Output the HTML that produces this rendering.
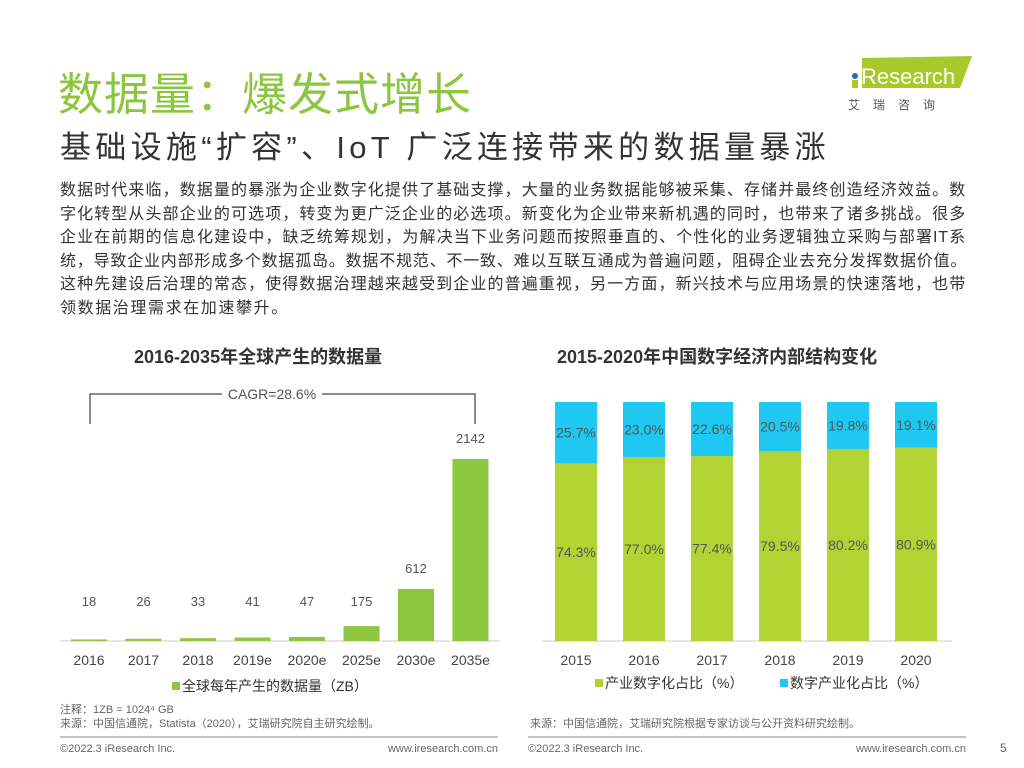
<!DOCTYPE html>
<html><head><meta charset="utf-8"><style>
body{margin:0;width:1024px;height:768px;background:#fff;position:relative;overflow:hidden;font-family:"Liberation Sans","Noto Sans CJK SC",sans-serif}
.a{position:absolute;white-space:nowrap}
.pl{white-space:nowrap;width:906px;text-align:justify;text-align-last:justify;text-justify:inter-character;height:23.6px}
</style></head><body>
<div class="a" style="left:58px;top:58px;font-size:45px;color:#8cc63f;letter-spacing:1px">数据量：爆发式增长</div>
<div class="a" style="left:60px;top:122px;font-size:31px;color:#333;letter-spacing:4.3px">基础设施“扩容”、IoT 广泛连接带来的数据量暴涨</div>
<div class="a" style="left:848px;top:52px;width:125px;height:60px">
<svg width="125" height="60"><polygon points="14,6 124,4 112,36 14,36" fill="#a9c92b"/><circle cx="7" cy="24" r="3" fill="#2a6ab5"/><rect x="4" y="28" width="6" height="8" fill="#a9c92b"/>
<text x="13" y="32" font-size="22" fill="#fff" font-family="Liberation Sans">Research</text>
<text x="0" y="57" font-size="12" fill="#555" letter-spacing="13" font-family="Noto Sans CJK SC">艾瑞咨询</text></svg></div>
<div class="a" style="left:60px;top:179px;font-size:16px;letter-spacing:0.8px;line-height:23.6px;color:#333">
<div class="pl">数据时代来临，数据量的暴涨为企业数字化提供了基础支撑，大量的业务数据能够被采集、存储并最终创造经济效益。数</div>
<div class="pl">字化转型从头部企业的可选项，转变为更广泛企业的必选项。新变化为企业带来新机遇的同时，也带来了诸多挑战。很多</div>
<div class="pl">企业在前期的信息化建设中，缺乏统筹规划，为解决当下业务问题而按照垂直的、个性化的业务逻辑独立采购与部署IT系</div>
<div class="pl">统，导致企业内部形成多个数据孤岛。数据不规范、不一致、难以互联互通成为普遍问题，阻碍企业去充分发挥数据价值。</div>
<div class="pl">这种先建设后治理的常态，使得数据治理越来越受到企业的普遍重视，另一方面，新兴技术与应用场景的快速落地，也带</div>
<div style="height:23.6px;letter-spacing:1.6px">领数据治理需求在加速攀升。</div>
</div>
<div class="a" style="left:134px;top:343px;font-size:18px;font-weight:bold;color:#333">2016-2035年全球产生的数据量</div>
<div class="a" style="left:557px;top:343px;font-size:18px;font-weight:bold;color:#333">2015-2020年中国数字经济内部结构变化</div>
<svg class="a" style="left:0;top:0" width="1024" height="768" id="charts" font-family="Liberation Sans, Noto Sans CJK SC, sans-serif">
<line x1="60" y1="641" x2="500" y2="641" stroke="#ccc"/>
<path d="M90,424 V394 H222 M322,394 H475 V424" fill="none" stroke="#666" stroke-width="1.5"/>
<text x="272" y="399" text-anchor="middle" font-size="14" fill="#555">CAGR=28.6%</text>
<line x1="542" y1="641" x2="952" y2="641" stroke="#ccc"/>
<g id="lc"></g><g id="rc"></g>
<rect x="172" y="682" width="8" height="8" fill="#8dc63f"/>
<text x="182" y="691" font-size="14" fill="#333">全球每年产生的数据量（ZB）</text>
<rect x="595" y="679" width="8" height="8" fill="#b3d234"/>
<text x="605" y="688" font-size="14" fill="#333">产业数字化占比（%）</text>
<rect x="780" y="679" width="8" height="8" fill="#1fc8f0"/>
<text x="790" y="688" font-size="14" fill="#333">数字产业化占比（%）</text>
<text x="60" y="713" font-size="11" fill="#666">注释：1ZB = 1024⁴ GB</text>
<text x="60" y="727" font-size="11" fill="#666">来源：中国信通院，Statista（2020），艾瑞研究院自主研究绘制。</text>
<text x="530" y="727" font-size="11" fill="#666">来源：中国信通院，艾瑞研究院根据专家访谈与公开资料研究绘制。</text>
<line x1="60" y1="737" x2="498" y2="737" stroke="#888"/>
<line x1="528" y1="737" x2="966" y2="737" stroke="#888"/>
<text x="60" y="752" font-size="11" fill="#666">©2022.3 iResearch Inc.</text>
<text x="498" y="752" font-size="11" fill="#666" text-anchor="end">www.iresearch.com.cn</text>
<text x="528" y="752" font-size="11" fill="#666">©2022.3 iResearch Inc.</text>
<text x="966" y="752" font-size="11" fill="#666" text-anchor="end">www.iresearch.com.cn</text>
<text x="1000" y="752" font-size="12" fill="#666">5</text>
</svg>
<script>
const leftCats=["2016","2017","2018","2019e","2020e","2025e","2030e","2035e"];
const leftVals=[18,26,33,41,47,175,612,2142];
const rightCats=["2015","2016","2017","2018","2019","2020"];
const industryVals=[74.3,77.0,77.4,79.5,80.2,80.9];
const digitalVals=[25.7,23.0,22.6,20.5,19.8,19.1];
const NS="http://www.w3.org/2000/svg";
function mk(t,a,p){const e=document.createElementNS(NS,t);for(const k in a)e.setAttribute(k,a[k]);p.appendChild(e);return e;}
const base=641;
const lx=i=>89+i*54.5, ly=v=>base-v*182/2142;
const lc=document.getElementById('lc');
leftCats.forEach((c,i)=>{
 const y=ly(leftVals[i]);
 const r=mk('rect',{x:lx(i)-18,y:y,width:36,height:base-y,fill:'#8dc63f'},lc);
 
 
 const t=mk('text',{x:lx(i),y:Math.min(y,622)-16,'text-anchor':'middle','font-size':13,fill:'#555'},lc);t.textContent=leftVals[i];
 
 
 const xl=mk('text',{x:lx(i),y:665,'text-anchor':'middle','font-size':14,fill:'#444'},lc);xl.textContent=c;
 
 
});
const rc=document.getElementById('rc');
const rx=i=>576+i*68, top0=402, H=base-top0;
const ry=p=>base-p/100*H;
rightCats.forEach((c,i)=>{
 const yg=ry(industryVals[i]);
 const g=mk('rect',{x:rx(i)-21,y:yg,width:42,height:base-yg,fill:'#b3d234'},rc);
 
 
 const yb=ry(industryVals[i]+digitalVals[i]);
 const b=mk('rect',{x:rx(i)-21,y:yb,width:42,height:yg-yb,fill:'#1fc8f0'},rc);
 
 
 const t1=mk('text',{x:rx(i),y:(yg+base)/2+5,'text-anchor':'middle','font-size':14,fill:'#555'},rc);t1.textContent=industryVals[i].toFixed(1)+'%';
 
 
 const t2=mk('text',{x:rx(i),y:(yb+yg)/2+5,'text-anchor':'middle','font-size':14,fill:'#555'},rc);t2.textContent=digitalVals[i].toFixed(1)+'%';
 
 
 const xl=mk('text',{x:rx(i),y:665,'text-anchor':'middle','font-size':14,fill:'#444'},rc);xl.textContent=c;
 
 
});
</script>
</body></html>
